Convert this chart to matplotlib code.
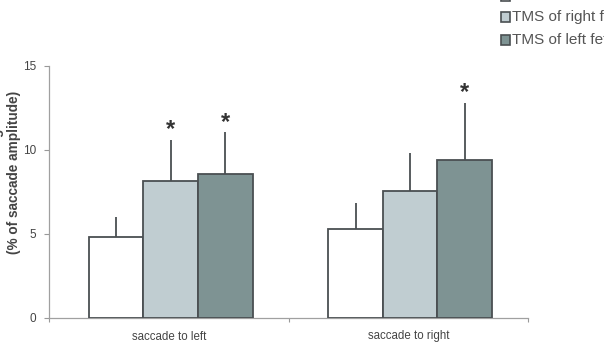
import matplotlib
matplotlib.use("Agg")
import matplotlib.pyplot as plt
from matplotlib.patches import Rectangle
import numpy as np

plt.rcParams['font.family'] = ['Liberation Sans', 'DejaVu Sans']

categories = ["saccade to left", "saccade to right"]
series_names = ["Without TMS", "TMS of right fef", "TMS of left fef"]
without_tms = [4.8, 5.28]
tms_right = [8.17, 7.58]
tms_left = [8.57, 9.4]
err_without = [1.23, 1.58]
err_right = [2.43, 2.22]
err_left = [2.48, 3.42]
significant = {"TMS of right fef": [True, False], "TMS of left fef": [True, True]}
yticks = [0, 5, 10, 15]

colors = ["#ffffff", "#c0cdd1", "#7e9393"]
edge = "#4a4f52"
text_col = "#444444"

W, H = 604, 347
fig = plt.figure(figsize=(W / 100, H / 100), dpi=100)
ax = fig.add_axes([49 / W, 1 - 318 / H, 479 / W, 252 / H])

x = np.arange(len(categories))
bw = 0.228
vals = [without_tms, tms_right, tms_left]
errs = [err_without, err_right, err_left]
for i, (v, e, name) in enumerate(zip(vals, errs, series_names)):
    pos = x + (i - 1) * bw + 0.008
    ax.bar(pos, v, width=bw, color=colors[i], edgecolor=edge, linewidth=1.3, zorder=3)
    ax.errorbar(pos, v, yerr=[np.zeros(len(e)), e], fmt='none', ecolor=edge,
                elinewidth=1.3, capsize=0, zorder=2)
    if name in significant:
        for p, vv, ee, s in zip(pos, v, e, significant[name]):
            if s:
                ax.annotate("*", (p, vv + ee), xytext=(0, -1), textcoords='offset points',
                            ha='center', va='bottom', fontsize=17, fontweight='bold',
                            color="#333333")

ax.set_xlim(-0.5, 1.5)
ax.set_ylim(0, 15)
ax.set_yticks(yticks)
ax.set_xticks([-0.5, 0.5, 1.5], minor=False)
ax.set_xticklabels([])
ax.set_xticks(x, minor=True)
ax.set_xticklabels(categories, minor=True)
ax.tick_params(axis='x', which='minor', length=0, pad=9, labelsize=8.3, labelcolor=text_col)
ax.tick_params(axis='x', which='major', length=3, color="#999999", direction='out')
ax.tick_params(axis='y', length=3.5, color="#999999", pad=6, labelsize=8.5, labelcolor=text_col)
for s in ['top', 'right']:
    ax.spines[s].set_visible(False)
for s in ['left', 'bottom']:
    ax.spines[s].set_color("#a0a0a0")
    ax.spines[s].set_linewidth(0.9)

fig.text(14 / W, 1 - 172 / H, "(% of saccade amplitude)", rotation=90, ha='center', va='center',
         fontsize=9.8, fontweight='bold', color=text_col)
fig.text(-3 / W, 1 - 172 / H, "Mislocalization magnitude", rotation=90, ha='center', va='center',
         fontsize=9.8, fontweight='bold', color=text_col)

# legend (partly outside the figure, as in the reference)
row_y = [-4.0, 17.0, 40.0]
for name, c, yy in zip(series_names, colors, row_y):
    fig.patches.append(Rectangle((501 / W, 1 - (yy + 5) / H), 9 / W, 10 / H,
                                 transform=fig.transFigure, facecolor=c,
                                 edgecolor=edge, linewidth=1.2))
    fig.text(512 / W, 1 - yy / H, name, ha='left', va='center', fontsize=11, color="#555555")

fig.savefig("out.png", dpi=100)
